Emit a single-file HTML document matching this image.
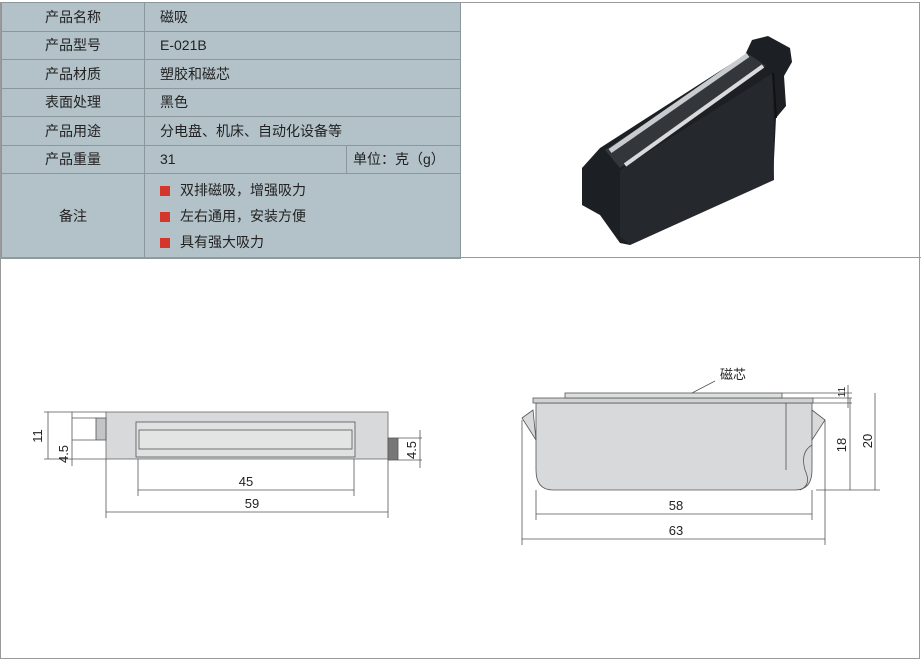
<!DOCTYPE html>
<html><head><meta charset="utf-8"><style>
body{margin:0;width:923px;height:662px;background:#fff;overflow:hidden;font-family:"Liberation Sans","Noto Sans CJK SC",sans-serif;}
.t{position:absolute;left:1px;top:2px;border-collapse:collapse;background:#b3c1c8;font-size:14px;color:#222;}
.t td{border:1px solid #8c979c;height:27.5px;padding:0;}
.t td.l{width:142px;text-align:center;}
.t td.v{padding-left:15px;}
.sq{display:inline-block;width:10px;height:10px;background:#d4362c;margin-right:10px;vertical-align:-1px;}
</style></head><body>
<div style="position:absolute;left:0;top:2px;width:920px;height:657px;border:1px solid #999;box-sizing:border-box"></div>
<table class="t">
<tr><td class="l">产品名称</td><td class="v" colspan="2" style="width:299px">磁吸</td></tr>
<tr><td class="l">产品型号</td><td class="v" colspan="2">E-021B</td></tr>
<tr><td class="l">产品材质</td><td class="v" colspan="2">塑胶和磁芯</td></tr>
<tr><td class="l">表面处理</td><td class="v" colspan="2">黑色</td></tr>
<tr><td class="l">产品用途</td><td class="v" colspan="2">分电盘、机床、自动化设备等</td></tr>
<tr><td class="l">产品重量</td><td class="v" style="width:186px">31</td><td style="padding-left:6px;width:107px">单位：克（g）</td></tr>
<tr><td class="l" style="height:84px">备注</td><td class="v" colspan="2" style="line-height:26px"><span class="sq"></span>双排磁吸，增强吸力<br><span class="sq"></span>左右通用，安装方便<br><span class="sq"></span>具有强大吸力</td></tr>
</table>
<div style="position:absolute;left:0;top:257px;width:921px;border-top:1px solid #999"></div>
<svg width="923" height="662" style="position:absolute;left:0;top:0" font-family="Liberation Sans, Noto Sans CJK SC, sans-serif">
<!-- photo -->
<polygon points="582,168 600,148 745,55 752,40 768,36 790,48 792,62 784,76 786,106 776,118 773,180 630,245 620,243 600,215 582,205" fill="#1c1f23"/>
<polygon points="620,170 773,73 774,180 630,245 620,236" fill="#25292e"/>
<polygon points="605,150 750,55 766,66 620,168" fill="#33363a"/>
<line x1="610" y1="151" x2="748" y2="55" stroke="#c9ccce" stroke-width="5"/>
<line x1="625" y1="165" x2="763" y2="66" stroke="#d8dadc" stroke-width="4"/>
<line x1="773" y1="73" x2="776" y2="118" stroke="#111" stroke-width="2"/>
<!-- left drawing -->
<g stroke="#555" fill="none" stroke-width="0.8">
<rect x="106" y="412" width="282" height="47" fill="#d7d9da" stroke="#666"/>
<rect x="96" y="418" width="10" height="22" fill="#c2c4c5"/>
<rect x="388" y="438" width="10" height="22" fill="#777"/>
<rect x="136" y="422" width="219" height="35" fill="#e0e2e2"/>
<rect x="139" y="430" width="213" height="19" fill="#e3e5e5"/>
<line x1="44" y1="412" x2="106" y2="412"/><line x1="44" y1="459" x2="106" y2="459"/>
<line x1="48" y1="412" x2="48" y2="459"/>
<line x1="72" y1="418" x2="96" y2="418"/><line x1="72" y1="440" x2="96" y2="440"/>
<line x1="72" y1="412" x2="72" y2="466"/>
<line x1="398" y1="438" x2="422" y2="438"/><line x1="398" y1="460" x2="422" y2="460"/>
<line x1="420" y1="430" x2="420" y2="468"/>
<line x1="138" y1="459" x2="138" y2="496"/><line x1="354" y1="459" x2="354" y2="496"/>
<line x1="138" y1="490" x2="354" y2="490"/>
<line x1="106" y1="459" x2="106" y2="518"/><line x1="388" y1="460" x2="388" y2="518"/>
<line x1="106" y1="512" x2="388" y2="512"/>
</g>
<g font-size="13" fill="#222" text-anchor="middle">
<text x="246" y="486">45</text><text x="252" y="508">59</text>
<text transform="translate(42,436) rotate(-90)">11</text>
<text transform="translate(68,454) rotate(-90)">4.5</text>
<text transform="translate(416,450) rotate(-90)">4.5</text>
</g>
<!-- right drawing -->
<g stroke="#555" fill="none" stroke-width="0.8">
<path d="M536,403 L812,403 L812,470 Q812,490 795,490 L553,490 Q536,490 536,470 Z" fill="#d7d9da"/>
<path d="M533,410 L522,418 L536,440 Z M812,410 L825,420 L812,440 Z" fill="#d7d9da"/>
<path d="M786,403 L786,470 M812,445 Q800,452 805,470 Q812,485 800,490" />
<rect x="533" y="398" width="280" height="5" fill="#d0d2d3"/>
<rect x="565" y="393" width="217" height="5" fill="#dcdedf"/>
<line x1="692" y1="393" x2="715" y2="381"/>
<line x1="782" y1="393" x2="852" y2="393"/><line x1="813" y1="398" x2="852" y2="398"/><line x1="813" y1="403" x2="852" y2="403"/>
<line x1="848" y1="385" x2="848" y2="408"/>
<line x1="816" y1="490" x2="880" y2="490"/>
<line x1="850" y1="398" x2="850" y2="490"/><line x1="875" y1="393" x2="875" y2="490"/>
<line x1="536" y1="490" x2="536" y2="520"/><line x1="812" y1="490" x2="812" y2="520"/>
<line x1="536" y1="514" x2="812" y2="514"/>
<line x1="522" y1="420" x2="522" y2="545"/><line x1="825" y1="420" x2="825" y2="545"/>
<line x1="522" y1="539" x2="825" y2="539"/>
</g>
<g font-size="13" fill="#222" text-anchor="middle">
<text x="733" y="379">磁芯</text>
<text x="676" y="510">58</text><text x="676" y="535">63</text>
<text transform="translate(846,445) rotate(-90)">18</text>
<text transform="translate(872,441) rotate(-90)">20</text>
<text transform="translate(845,392) rotate(-90)" font-size="10">11</text>
</g>
</svg>
</body></html>
